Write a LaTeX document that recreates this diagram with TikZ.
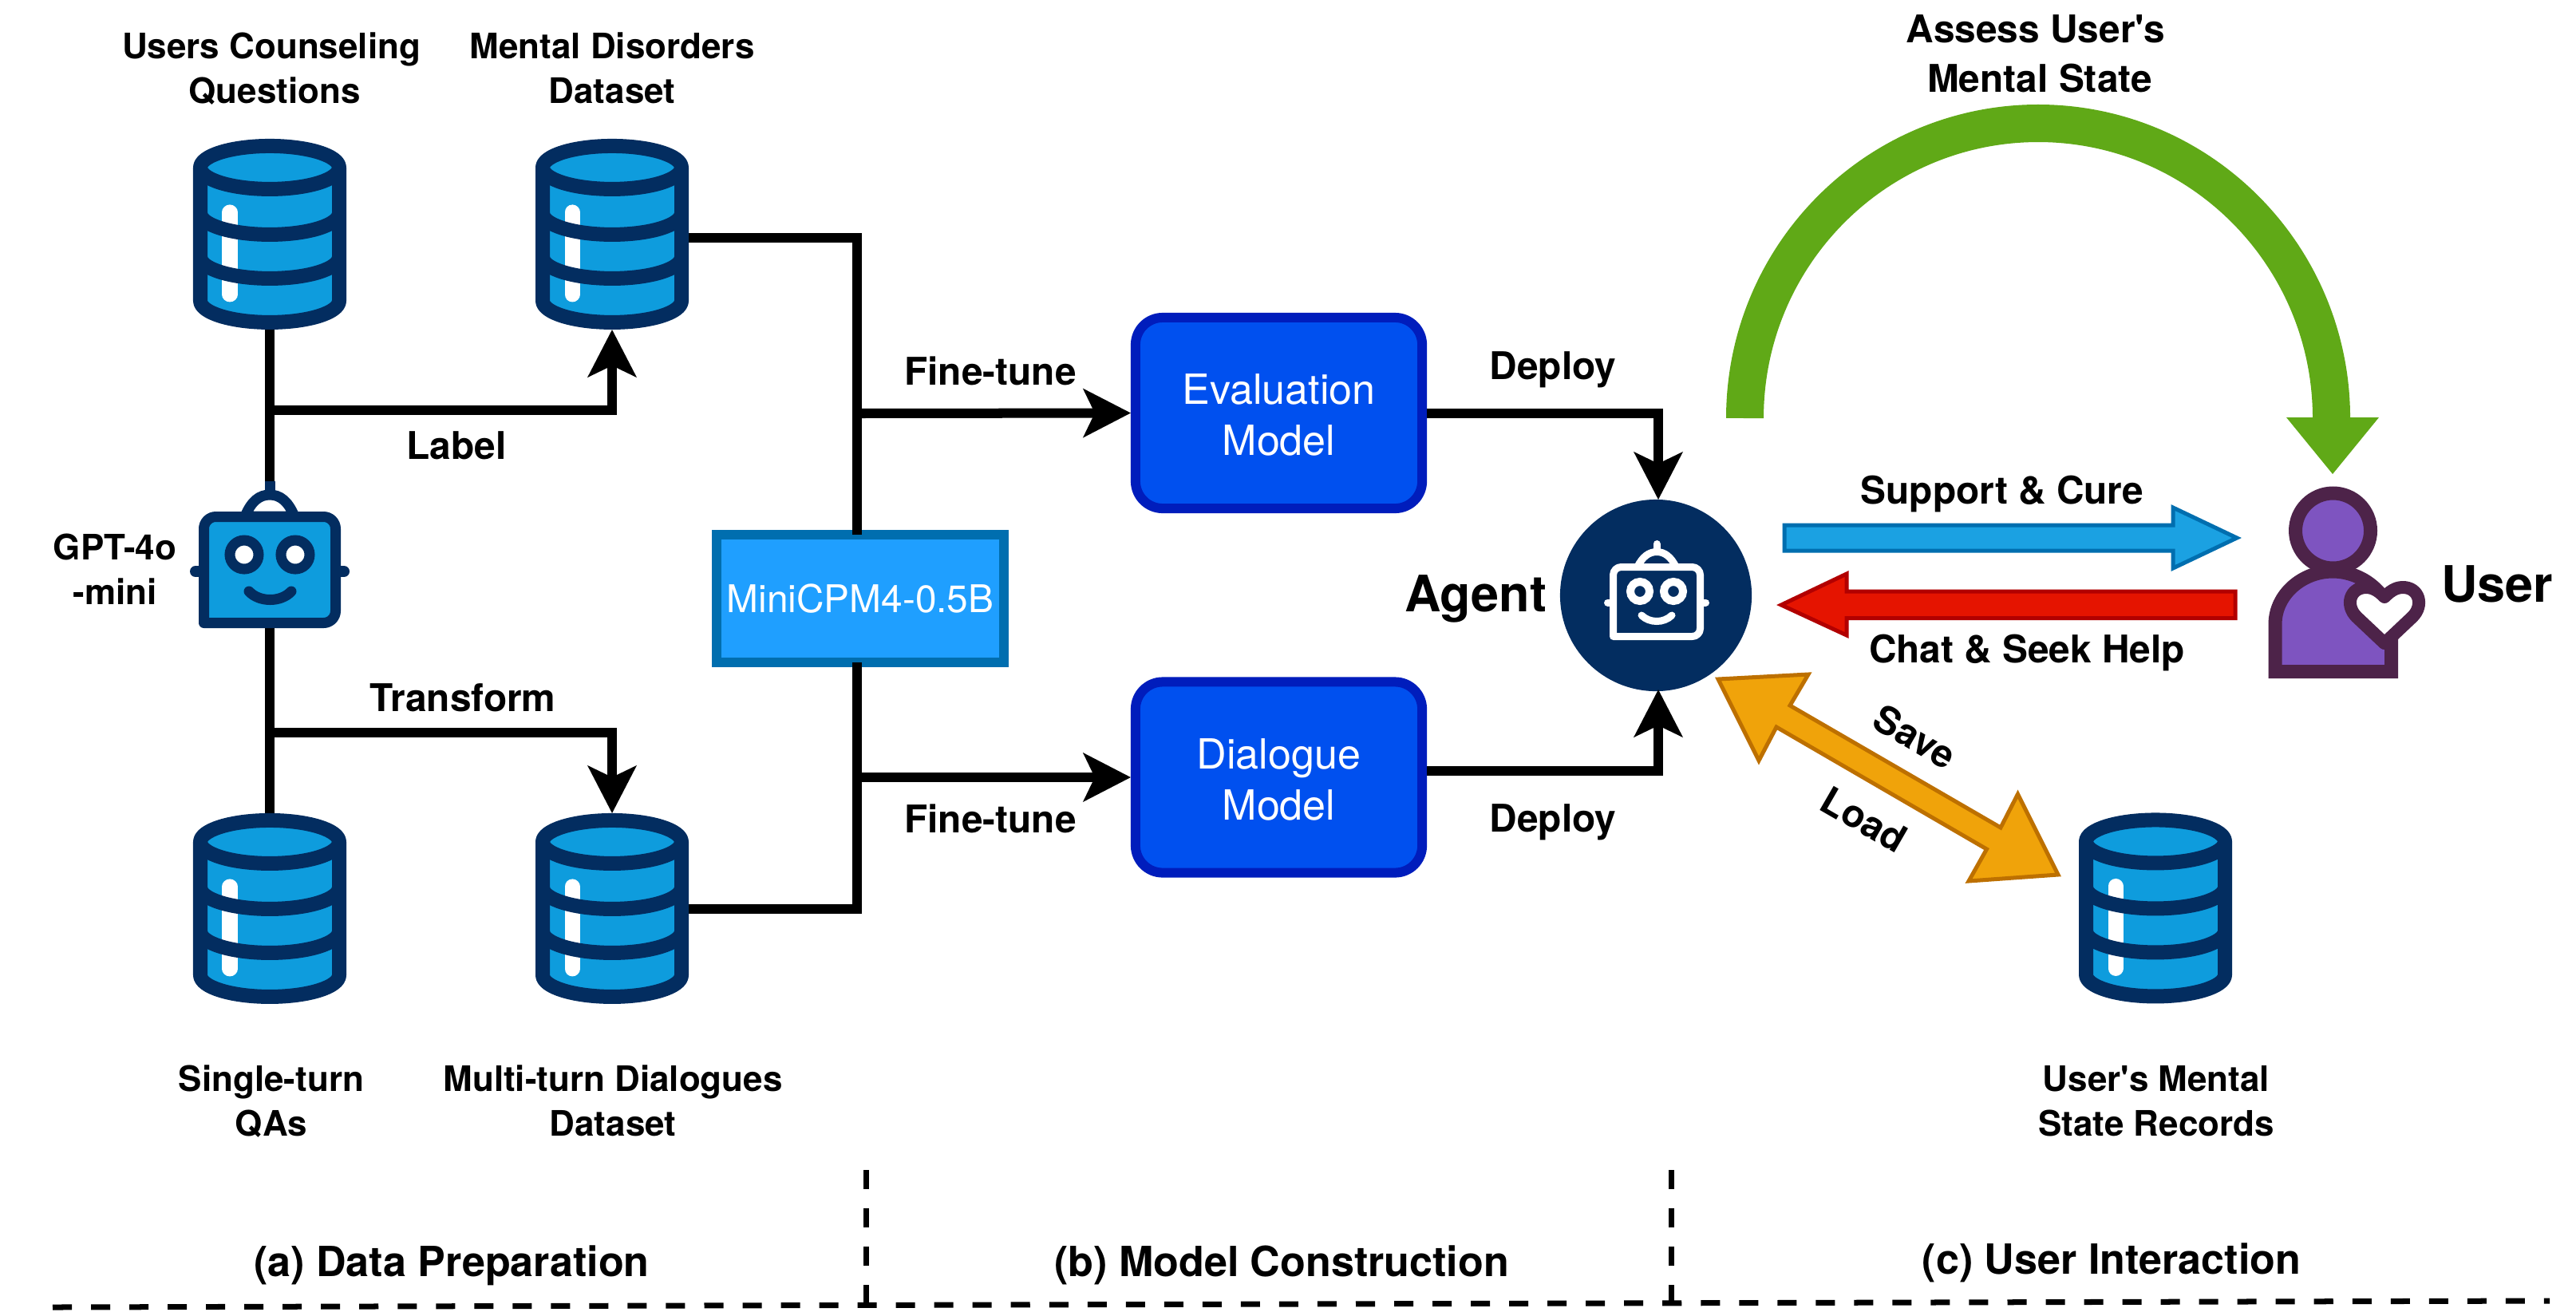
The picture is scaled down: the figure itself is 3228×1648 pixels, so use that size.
\documentclass[tikz,border=0pt]{standalone}
\usepackage{fontspec}
\setmainfont{TeX Gyre Heros}
\newfontfamily\plainfont{TeX Gyre Heros}
\usetikzlibrary{arrows.meta,calc}
\definecolor{navy}{HTML}{032D60}
\definecolor{dbblue}{HTML}{0E9CDD}
\definecolor{minifill}{HTML}{1F9FFF}
\definecolor{miniline}{HTML}{006EAF}
\definecolor{cobaltfill}{HTML}{0050EF}
\definecolor{cobaltline}{HTML}{001DBC}
\definecolor{arcgreen}{HTML}{60A917}
\definecolor{suparrow}{HTML}{1BA1E2}
\definecolor{chatfill}{HTML}{E51400}
\definecolor{chatline}{HTML}{B20000}
\definecolor{orangefill}{HTML}{F0A30A}
\definecolor{orangeline}{HTML}{BD7000}
\definecolor{userfill}{HTML}{7E54C0}
\definecolor{userline}{HTML}{4D2349}
\tikzset{
  conn/.style={draw=black,line width=.12cm},
  arr/.style={-{Stealth[length=.6cm,width=.62cm,inset=.15cm,line width=0pt]}},
  dbframe/.style={minimum width=1.92cm,minimum height=2.39cm,inner sep=0pt,outer sep=0pt},
  dblabel/.style={font=\plainfont\bfseries\fontsize{12.5}{15.9}\selectfont,align=center,anchor=base},
  flowlabel/.style={font=\plainfont\bfseries\fontsize{13.6}{17.4}\selectfont,align=center,anchor=base},
  sectionlabel/.style={font=\plainfont\bfseries\fontsize{14.8}{18}\selectfont,anchor=base},
  biglabel/.style={font=\plainfont\bfseries\fontsize{17.9}{21}\selectfont,anchor=base},
  modelbox/.style={draw=cobaltline,fill=cobaltfill,line width=.12cm,rounded corners=.34cm,
    minimum width=3.59cm,minimum height=2.39cm,inner sep=0pt,text=white,align=center,
    font=\plainfont\fontsize{14.8}{18.2}\selectfont},
  minibox/.style={draw=miniline,fill=minifill,line width=.12cm,minimum width=3.6cm,minimum height=1.6cm,
    inner sep=0pt,text=white,font=\plainfont\fontsize{13.6}{16}\selectfont},
  dashline/.style={draw=black,line width=.07cm,dash pattern=on .24cm off .24cm},
  dbicon/.pic={
    \draw[draw=navy,fill=dbblue,line width=.18cm,line join=round]
      (-87,36) arc[start angle=180,end angle=360,x radius=87,y radius=27]
      -- (87,203) arc[start angle=0,end angle=180,x radius=87,y radius=27] -- cycle;
    \draw[white,line width=.19cm,line cap=round] (-50,92) -- (-50,195);
    \draw[navy,line width=.18cm] (-87,36) arc[start angle=180,end angle=0,x radius=87,y radius=27];
    \draw[navy,line width=.18cm] (-87,93) arc[start angle=180,end angle=0,x radius=87,y radius=27];
    \draw[navy,line width=.18cm] (-87,148) arc[start angle=180,end angle=0,x radius=87,y radius=27];
  }
}
\begin{document}
\begin{tikzpicture}[x=.01cm,y=-.01cm]
\useasboundingbox (0,0) rectangle (3228,1648);

% database and other anchor nodes
\node[dbframe] (db1) at (338,293.5) {};
\node[dbframe] (db2) at (767,293.5) {};
\node[dbframe] (db3) at (338,1138.5) {};
\node[dbframe] (db4) at (767,1138.5) {};
\node[dbframe] (db5) at (2701,1138) {};
\node[minimum width=1.78cm,minimum height=1.84cm,inner sep=0pt,outer sep=0pt] (gpt) at (338,695) {};
\node[circle,fill=navy,minimum size=2.4cm,inner sep=0pt,outer sep=0pt] (agent) at (2075,746) {};
\node[minibox] (mini) at (1078,750) {MiniCPM4-0.5B};
\node[modelbox] (eval) at (1602.5,517.5) {\rule{0pt}{12.4pt}Evaluation\\Model};
\node[modelbox] (dial) at (1602.5,974) {\rule{0pt}{12.4pt}Dialogue\\Model};

\coordinate (labelfork) at (338,514);
\coordinate (transfork) at (338,918);
\coordinate (upfork) at (1074,518);
\coordinate (lowfork) at (1074,974);

% connectors
\draw[conn] (db1.south) -- (gpt.north);
\draw[conn] (gpt.south) -- (db3.north);
\draw[conn,arr] (labelfork) -| (db2.south);
\draw[conn,arr] (transfork) -| (db4.north);
\draw[conn] ($(db2.east)+(0,4.5)$) -| ($(mini.north)+(-4,6)$);
\draw[conn] (db4.east) -| ($(mini.south)+(-4,-6)$);
\draw[conn,arr] (upfork) -- (eval.west);
\draw[conn,arr] (lowfork) -- (dial.west);
\draw[conn,arr] (eval.east) -| ($(agent.north)+(3,0)$);
\draw[conn,arr] ($(dial.east)+(0,-8)$) -| ($(agent.south)+(3,-2)$);

% database icons
\pic at (db1.north) {dbicon};
\pic at (db2.north) {dbicon};
\pic at (db3.north) {dbicon};
\pic at (db4.north) {dbicon};
\pic at (db5.north) {dbicon};

% GPT robot
\draw[navy,line width=.13cm] (338,603) -- (338,620);
\draw[navy,fill=white,line width=.13cm] (307,647) .. controls (315,628) and (325,620) .. (338,620)
  .. controls (351,620) and (361,628) .. (369,647) -- cycle;
\draw[navy,line width=.14cm,line cap=round] (255,716) -- (245,716);
\draw[navy,line width=.14cm,line cap=round] (421,716) -- (431,716);
\draw[navy,fill=dbblue,line width=.13cm,line join=round] (255.5,780.5)
  {[rounded corners=.15cm] -- (255.5,647.5) -- (420.5,647.5) -- (420.5,780.5)} -- cycle;
\draw[navy,fill=white,line width=.13cm] (306,695) circle[radius=18];
\draw[navy,fill=white,line width=.13cm] (370,695) circle[radius=18];
\draw[navy,line width=.13cm,line cap=round] (312,741) .. controls (325,755) and (352,755) .. (365,741);

% Agent robot
\draw[white,line width=.09cm,line cap=round] (2076,681.5) -- (2076,691.5);
\draw[white,line width=.09cm] (2052,710) .. controls (2058,698) and (2066,691.5) .. (2076,691.5)
  .. controls (2086,691.5) and (2094,698) .. (2100,710);
\draw[white,line width=.09cm,line cap=round] (2021,755) -- (2014.5,755);
\draw[white,line width=.09cm,line cap=round] (2131,755) -- (2137.5,755);
\draw[white,line width=.09cm,line join=round] (2021.5,797.5)
  {[rounded corners=.1cm] -- (2021.5,710.5) -- (2130.5,710.5) -- (2130.5,797.5)} -- cycle;
\draw[white,line width=.1cm] (2055,741) circle[radius=12];
\draw[white,line width=.1cm] (2097,741) circle[radius=12];
\draw[white,line width=.09cm,line cap=round] (2057,771) .. controls (2067,781) and (2085,781) .. (2095,771);

% arc arrow
\coordinate (arcstart) at (2186.5,524);
\draw[arcgreen,line width=.47cm] (arcstart) arc[start angle=180,end angle=360,x radius=367.5,y radius=369.5] coordinate (arcend);
\fill[arcgreen] (2865,523) -- (2981,523) -- (2923,594) -- cycle;

% block arrows
\draw[miniline,fill=suparrow,line width=.05cm,miter limit=10] (2236,658) -- (2723,658) -- (2723,636) -- (2803,674)
  -- (2723,712) -- (2723,690) -- (2236,690) -- cycle;
\draw[chatline,fill=chatfill,line width=.05cm,miter limit=10] (2801,741) -- (2314,741) -- (2314,719) -- (2232,758)
  -- (2314,796) -- (2314,774.5) -- (2801,774.5) -- cycle;
\draw[orangeline,fill=orangefill,line width=.05cm,miter limit=10] (2153,851) -- (2266,845) -- (2243,884) -- (2507,1037)
  -- (2528.5,995) -- (2579,1096) -- (2467,1104) -- (2489.5,1064) -- (2226,911) -- (2204,953) -- cycle;

% user icon
\draw[userline,fill=userfill,line width=.17cm,line join=miter] (2851,841.5) -- (2851,782)
  .. controls (2851,745) and (2885,716) .. (2923,716)
  .. controls (2961,716) and (2996.5,745) .. (2996.5,782) -- (2996.5,841.5) -- cycle;
\draw[userline,fill=userfill,line width=.17cm] (2923.5,665) circle[radius=47];
\draw[userline,fill=white,line width=.16cm,line join=round] (2988,806) -- (2953,773)
  .. controls (2938,758) and (2945,736) .. (2965,736)
  .. controls (2975,736) and (2982,742) .. (2988,748)
  .. controls (2994,742) and (3001,736) .. (3011,736)
  .. controls (3031,736) and (3038,758) .. (3023,773) -- cycle;

% labels
\node[dblabel] (t1) at (340,129) {Users Counseling\\\hspace*{.08cm}Questions};
\node[dblabel] (t2) at (767,129) {Mental Disorders\\Dataset};
\node[dblabel] (t3) at (340,1423) {Single-turn\\QAs};
\node[dblabel] (t4) at (768,1423) {Multi-turn Dialogues\\Dataset};
\node[dblabel] (t5) at (2702,1423) {User's Mental\\State Records};
\node[dblabel] (t6) at (144,757) {GPT-4o\\-mini};
\node[flowlabel] (t7) at (2551,115) {Assess User's\\\hspace*{.1cm}Mental State};
\node[flowlabel] (l1) at (572,575) {Label};
\node[flowlabel] (l2) at (580,891) {Transform};
\node[flowlabel] (l3) at (1241,482) {Fine-tune};
\node[flowlabel] (l4) at (1241,1043) {Fine-tune};
\node[flowlabel] (l5) at (1946,475) {Deploy};
\node[flowlabel] (l6) at (1946,1042) {Deploy};
\node[flowlabel] (l7) at (2509,631) {Support \& Cure};
\node[flowlabel] (l8) at (2540,830) {Chat \& Seek Help};
\node[flowlabel,anchor=center,rotate=-30] (l9) at (2400,923) {Save};
\node[flowlabel,anchor=center,rotate=-30] (l10) at (2336,1027) {Load};
\node[biglabel] (ag) at (1849,766) {Agent};
\node[biglabel] (us) at (3129,754) {User};
\node[sectionlabel] (s1) at (566,1599) {(a) Data Preparation};
\node[sectionlabel] (s2) at (1606,1599) {(b) Model Construction};
\node[sectionlabel] (s3) at (2646,1596) {(c) User Interaction};

% section dividers
\coordinate (d1t) at (1085,1466);
\coordinate (d1b) at (1085,1634);
\coordinate (d2t) at (2094,1466);
\coordinate (d2b) at (2094,1630);
\coordinate (hl) at (66,1638);
\coordinate (hr) at (3195,1630);
\draw[dashline] (d1t) -- (d1b);
\draw[dashline] (d2t) -- (d2b);
\draw[dashline] (hl) -- (hr);
\end{tikzpicture}
\end{document}
